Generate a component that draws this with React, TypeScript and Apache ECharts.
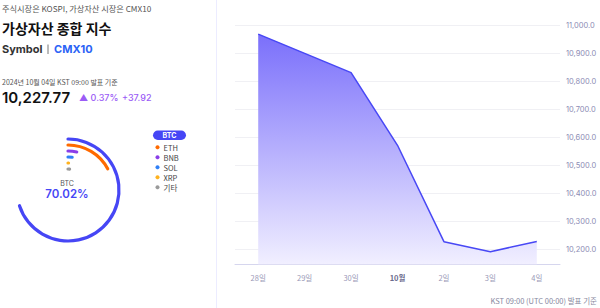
import React, { useEffect, useRef } from "react";
import * as echarts from "echarts";

const dates = ["28일", "29일", "30일", "10월", "2일", "3일", "4일"];
const indexValues = [10970, 10901, 10832, 10572, 10227, 10191, 10227.77];
const yMin = 10146;
const yMax = 11000;

const coinNames = ["BTC", "ETH", "BNB", "SOL", "XRP", "기타"];
const coinShares = [70.02, 17.2, 3.6, 2.0, 0.3, 1.2];
const coinColors = ["#4646f5", "#ff6a00", "#8a3ee8", "#2f80f7", "#ffb21e", "#9a9a9a"];

const FONT = "Inter, 'Noto Sans CJK KR', sans-serif";
const KFONT = "'Noto Sans CJK KR', Inter, sans-serif";

export default function App() {
  const ref = useRef<HTMLDivElement>(null);
  useEffect(() => {
    if (!ref.current) return;
    const chart = echarts.init(ref.current, undefined, { renderer: "svg" });

    const ringOrder = coinNames.slice().reverse();
    const ringData = ringOrder.map((n) => {
      const i = coinNames.indexOf(n);
      return { value: coinShares[i], name: n, itemStyle: { color: coinColors[i] } };
    });

    const legendItems: any[] = [];
    coinNames.slice(1).forEach((n, k) => {
      const i = k + 1;
      const y = 147.3 + k * 10;
      legendItems.push({
        type: "circle",
        shape: { cx: 157.5, cy: y, r: 2 },
        style: { fill: coinColors[i] },
      });
      legendItems.push({
        type: "text",
        x: 163.5,
        y,
        style: { text: n, font: `400 7.5px ${KFONT}`, fill: "#444", textVerticalAlign: "middle" },
      });
    });

    const option: any = {
      animation: false,
      grid: { left: 235, right: 40, top: 25.7, bottom: 43.7, containLabel: false },
      xAxis: {
        type: "category",
        data: dates,
        boundaryGap: true,
        axisLine: { lineStyle: { color: "#d6d6ee", width: 1 } },
        axisTick: { alignWithLabel: true, length: 3, lineStyle: { color: "#d6d6ee" } },
        axisLabel: {
          color: "#9a9ab8",
          fontSize: 7.5,
          fontFamily: KFONT,
          margin: 9,
          formatter: (v: string) => (v.endsWith("월") ? `{b|${v}}` : v),
          rich: { b: { fontWeight: "bold", color: "#6a6a8c", fontSize: 7.5, fontFamily: KFONT } },
        },
        splitLine: { show: false },
      },
      yAxis: {
        type: "value",
        position: "right",
        min: yMin,
        max: yMax,
        splitNumber: 8,
        axisLine: { show: false },
        axisTick: { show: false },
        axisLabel: {
          color: "#8c8cb4",
          fontSize: 7.5,
          fontFamily: FONT,
          margin: 6,
          showMinLabel: false,
          formatter: (v: number) =>
            v.toLocaleString("en-US", { minimumFractionDigits: 1, maximumFractionDigits: 1 }),
        },
        splitLine: { lineStyle: { color: "#f0f0f4", width: 1 } },
      },
      polar: { center: [68, 190], radius: [18, 54] },
      angleAxis: { type: "value", max: 100, startAngle: 90, clockwise: true, show: false },
      radiusAxis: { type: "category", data: ringOrder, show: false },
      series: [
        {
          type: "line",
          data: indexValues,
          symbol: "none",
          lineStyle: { color: "#4848f5", width: 1.5 },
          areaStyle: {
            color: new echarts.graphic.LinearGradient(0, 0, 0, 1, [
              { offset: 0, color: "#7a6ffb" },
              { offset: 1, color: "#f1efff" },
            ]),
            opacity: 1,
          },
        },
        {
          type: "bar",
          coordinateSystem: "polar",
          data: ringData,
          barWidth: 3.2,
          roundCap: true,
        },
      ],
      graphic: [
        { type: "line", shape: { x1: 216.5, y1: 0, x2: 216.5, y2: 308 }, style: { stroke: "#ececff", lineWidth: 1 } },
        {
          type: "text", x: 2, y: 7.5,
          style: { text: "주식시장은 KOSPI, 가상자산 시장은 CMX10", font: `400 8.2px ${KFONT}`, fill: "#555", textVerticalAlign: "middle" },
        },
        {
          type: "text", x: 2, y: 28,
          style: { text: "가상자산 종합 지수", font: `700 14px ${KFONT}`, fill: "#111", textVerticalAlign: "middle" },
        },
        {
          type: "text", x: 2, y: 49,
          style: { text: "Symbol", font: `700 11px ${FONT}`, fill: "#333", textVerticalAlign: "middle" },
        },
        { type: "line", shape: { x1: 48, y1: 44.5, x2: 48, y2: 54 }, style: { stroke: "#777", lineWidth: 1 } },
        {
          type: "text", x: 54, y: 49,
          style: { text: "CMX10", font: `700 11px ${FONT}`, fill: "#2b63f6", textVerticalAlign: "middle" },
        },
        {
          type: "text", x: 2, y: 82,
          style: { text: "2024년 10월 04일 KST 09:00 발표 기준", font: `400 7px ${KFONT}`, fill: "#555", textVerticalAlign: "middle" },
        },
        {
          type: "text", x: 2, y: 97,
          style: { text: "10,227.77", font: `600 15px ${FONT}`, fill: "#111", textVerticalAlign: "middle" },
        },
        {
          type: "text", x: 79, y: 97,
          style: { text: "▲ 0.37%", font: `500 9px ${FONT}`, fill: "#9b5cf6", textVerticalAlign: "middle" },
        },
        {
          type: "text", x: 122, y: 97,
          style: { text: "+37.92", font: `500 9px ${FONT}`, fill: "#9b5cf6", textVerticalAlign: "middle" },
        },
        {
          type: "text", x: 67, y: 183,
          style: { text: "BTC", font: `400 7px ${FONT}`, fill: "#555", textAlign: "center", textVerticalAlign: "middle" },
        },
        {
          type: "text", x: 67, y: 194,
          style: { text: "70.02%", font: `600 11.5px ${FONT}`, fill: "#4646f5", textAlign: "center", textVerticalAlign: "middle" },
        },
        {
          type: "rect", shape: { x: 153, y: 130.5, width: 33, height: 9.5, r: 4.75 }, style: { fill: "#4646f5" },
        },
        {
          type: "text", x: 169.5, y: 135.3,
          style: { text: "BTC", font: `700 7px ${FONT}`, fill: "#fff", textAlign: "center", textVerticalAlign: "middle" },
        },
        ...legendItems,
        {
          type: "text", x: 597, y: 300,
          style: { text: "KST 09:00 (UTC 00:00) 발표 기준", font: `400 7.5px ${KFONT}`, fill: "#8888a0", textAlign: "right", textVerticalAlign: "middle" },
        },
      ],
    };
    chart.setOption(option);
    return () => chart.dispose();
  }, []);
  return (
    <div
      ref={ref}
      style={{ position: "fixed", left: 0, top: 0, width: 600, height: 308, background: "#fff" }}
    />
  );
}
